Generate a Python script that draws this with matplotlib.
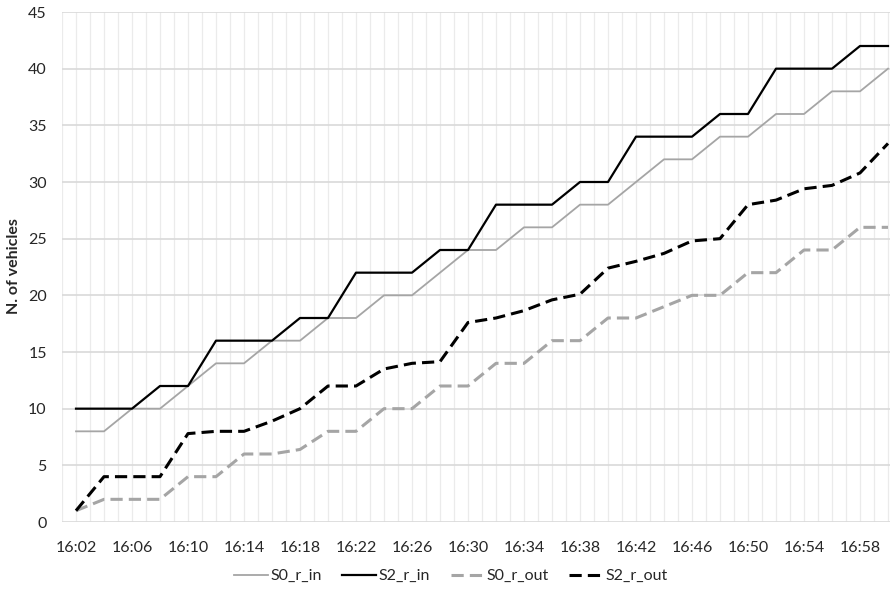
"""
Cumulative vehicle counts per minute for scenarios S0 and S2 (in / out).
Saves out.png at 890x590.
"""

import matplotlib.pyplot as plt

# time axis: minutes past 16:00, one sample every 2 minutes
minutes = list(range(2, 61, 2))
tick_minutes = list(range(2, 59, 4))
tick_labels = [f"16:{m:02d}" for m in tick_minutes]

s0_r_in = [8, 8, 10, 10, 12, 14, 14, 16, 16, 18, 18, 20, 20, 22, 24,
           24, 26, 26, 28, 28, 30, 32, 32, 34, 34, 36, 36, 38, 38, 40]
s2_r_in = [10, 10, 10, 12, 12, 16, 16, 16, 18, 18, 22, 22, 22, 24, 24,
           28, 28, 28, 30, 30, 34, 34, 34, 36, 36, 40, 40, 40, 42, 42]
s0_r_out = [1, 2, 2, 2, 4, 4, 6, 6, 6.4, 8, 8, 10, 10, 12, 12,
            14, 14, 16, 16, 18, 18, 19, 20, 20, 22, 22, 24, 24, 26, 26]
s2_r_out = [1, 4, 4, 4, 7.8, 8, 8, 8.9, 10, 12, 12, 13.5, 14, 14.15, 17.6,
            18, 18.65, 19.6, 20.1, 22.4, 23, 23.7, 24.8, 25, 28, 28.4, 29.4, 29.7, 30.8, 33.4]

GREY = "#A5A5A5"
BLACK = "#000000"
GRID_H = "#D9D9D9"
GRID_V = "#EBEBEB"
TEXT = "#262626"

plt.rcParams.update({
    "font.family": ["Lato", "DejaVu Sans"],
    "font.size": 11,
})

fig = plt.figure(figsize=(8.9, 5.9), dpi=100)
ax = fig.add_axes([62 / 890, 1 - 522 / 590, 1 - 62 / 890, (522 - 12) / 590])

# grid: minute verticals, every-5 horizontals
for m in range(1, 61):
    ax.axvline(m, color=GRID_V, lw=0.9, zorder=0)
for v in range(0, 46, 5):
    ax.axhline(v, color=GRID_H, lw=1.2, zorder=0)

ax.plot(minutes, s0_r_in, color=GREY, lw=1.3, label="S0_r_in")
ax.plot(minutes, s2_r_in, color=BLACK, lw=1.6, label="S2_r_in")
ax.plot(minutes, s0_r_out, color=GREY, lw=2.2, dashes=(4, 2),
        dash_capstyle="butt", label="S0_r_out")
ax.plot(minutes, s2_r_out, color=BLACK, lw=2.2, dashes=(4, 2),
        dash_capstyle="butt", label="S2_r_out")

ax.set_xlim(1, 2 + 814 / 14)
ax.set_ylim(0, 45)
ax.set_xticks(tick_minutes)
ax.set_xticklabels(tick_labels)
ax.set_yticks(range(0, 46, 5))
ax.tick_params(axis="both", length=0, labelsize=11.5, colors=TEXT)
ax.tick_params(axis="x", pad=14)
ax.tick_params(axis="y", pad=11)
for s in ax.spines.values():
    s.set_visible(False)

fig.text(14 / 890, 1 - 266 / 590, "N. of vehicles", rotation=90,
         ha="center", va="center", fontsize=11.5, fontweight="bold", color=TEXT)

fig.legend(loc="center", bbox_to_anchor=(451 / 890, 1 - 576 / 590), ncol=4,
           frameon=False, fontsize=11.5, handlelength=2.1, handletextpad=0.15,
           columnspacing=1.3, labelcolor=TEXT)

fig.savefig("out.png", dpi=100)
